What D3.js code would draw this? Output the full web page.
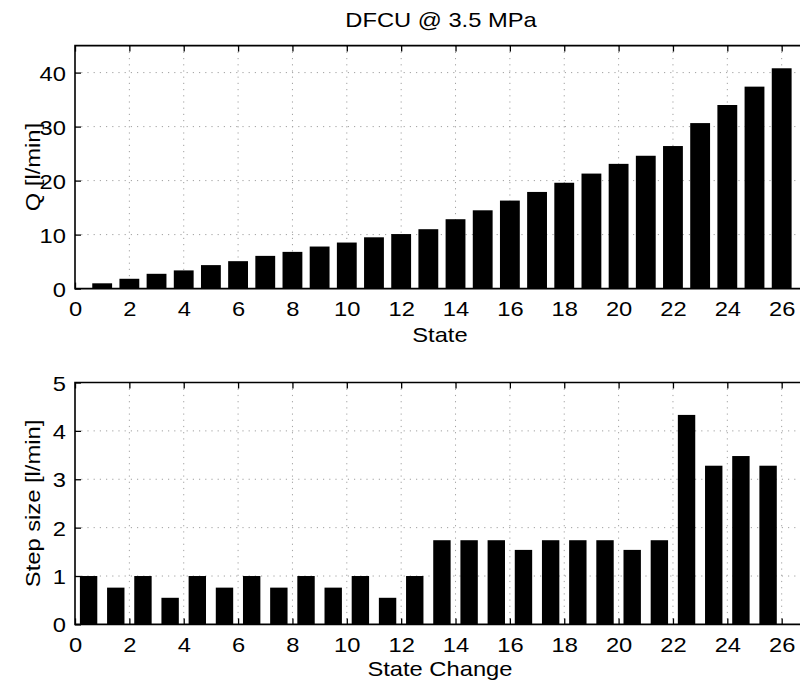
<!DOCTYPE html>
<html>
<head>
<meta charset="utf-8">
<script src="https://cdn.jsdelivr.net/npm/d3@7"></script>
<style>
  html, body { margin: 0; padding: 0; background: #fff; }
  svg { display: block; }
  text { font-family: "Liberation Sans", Arial, Helvetica, sans-serif; fill: #000; }
</style>
</head>
<body>
<svg id="chart" width="800" height="683"></svg>
<script>
// Flow rate per DFCU state (states 1..26)
const states = d3.range(1, 27);
const flowQ = [0.98, 1.82, 2.74, 3.37, 4.35, 5.08, 6.06, 6.8, 7.79, 8.53,
               9.5, 10.1, 11.0, 12.85, 14.5, 16.3, 17.9, 19.6, 21.3, 23.1,
               24.6, 26.4, 30.65, 34.0, 37.4, 40.8];

// Step size between consecutive states (plotted at half-integer positions)
const stateChanges = d3.range(0.5, 26, 1);
const stepSize = [1.0, 0.76, 1.0, 0.55, 1.0, 0.76, 1.0, 0.76, 1.0, 0.76,
                  1.0, 0.55, 1.0, 1.74, 1.74, 1.74, 1.54, 1.74, 1.74, 1.74,
                  1.54, 1.74, 4.33, 3.28, 3.48, 3.28];

const xTicks = d3.range(0, 27, 2);
const yTicksTop = [0, 10, 20, 30, 40];
const yTicksBottom = [0, 1, 2, 3, 4, 5];

const titleText = "DFCU @ 3.5 MPa";

const svg = d3.select("#chart");
const left = 75, right = 75 + 27 * 27.18;
const fontSize = 21;
const stretch = "scale(1.13,1)";   // slightly wide lettering

function panel(opts) {
  const { top, bottom, xData, yData, yMax, yTicks, barWidth, xLabel, yLabel } = opts;
  const x = d3.scaleLinear().domain([0, 27]).range([left, right]);
  const y = d3.scaleLinear().domain([0, yMax]).range([bottom, top]);
  const g = svg.append("g");

  // dotted grid
  g.append("g").selectAll("line").data(xTicks.filter(t => t > 0)).join("line")
    .attr("x1", d => x(d)).attr("x2", d => x(d))
    .attr("y1", top).attr("y2", bottom)
    .attr("stroke", "#a0a0a0").attr("stroke-width", 1)
    .attr("stroke-dasharray", "1.2,5");
  g.append("g").selectAll("line").data(yTicks.filter(t => t > 0 && t < yMax)).join("line")
    .attr("x1", left).attr("x2", right)
    .attr("y1", d => y(d)).attr("y2", d => y(d))
    .attr("stroke", "#a0a0a0").attr("stroke-width", 1)
    .attr("stroke-dasharray", "1.2,5");

  // bars
  const w = x(barWidth) - x(0);
  g.append("g").selectAll("rect").data(xData.map((d, i) => [d, yData[i]])).join("rect")
    .attr("x", d => x(d[0]) - w / 2)
    .attr("y", d => y(d[1]))
    .attr("width", w)
    .attr("height", d => y(0) - y(d[1]))
    .attr("fill", "#000");

  // axes: ticks point inward, box drawn separately
  const tickLen = 6;
  const fmt = d3.format("d");
  const xb = d3.axisBottom(x).tickValues(xTicks).tickSizeInner(-tickLen).tickSizeOuter(0).tickPadding(13).tickFormat(fmt);
  const xt = d3.axisTop(x).tickValues(xTicks).tickSizeInner(-tickLen).tickSizeOuter(0).tickFormat("");
  const yl = d3.axisLeft(y).tickValues(yTicks).tickSizeInner(-tickLen).tickSizeOuter(0).tickPadding(8).tickFormat(fmt);

  const gxb = g.append("g").attr("transform", `translate(0,${bottom})`).call(xb);
  const gxt = g.append("g").attr("transform", `translate(0,${top})`).call(xt);
  const gyl = g.append("g").attr("transform", `translate(${left},0)`).call(yl);
  [gxb, gxt, gyl].forEach(a => {
    a.attr("font-size", null).attr("font-family", null);
    a.select(".domain").remove();
    a.selectAll(".tick line").attr("stroke", "#000").attr("stroke-width", 1.3);
    a.selectAll(".tick text")
      .style("font-size", fontSize + "px")
      .attr("fill", "#000")
      .attr("transform", stretch);
  });
  gxb.selectAll(".tick text").attr("dy", "0.71em");
  gyl.selectAll(".tick text").attr("dy", "0.36em");

  // axes box
  g.append("path")
    .attr("d", `M${right},${top}H${left}V${bottom}H${right}`)
    .attr("fill", "none").attr("stroke", "#000").attr("stroke-width", 1.6);

  // axis labels
  g.append("text")
    .attr("transform", `translate(${(left + right) / 2 - 2},${opts.xLabelY}) ${stretch}`)
    .attr("text-anchor", "middle").style("font-size", fontSize + "px")
    .text(xLabel);
  g.append("text")
    .attr("transform", `translate(${opts.yLabelX},${(top + bottom) / 2}) rotate(-90) ${stretch}`)
    .attr("text-anchor", "middle").style("font-size", fontSize + "px")
    .text(yLabel);
}

svg.append("text")
  .attr("transform", `translate(441,27) ${stretch}`)
  .attr("text-anchor", "middle").style("font-size", fontSize + "px")
  .text(titleText);

panel({ top: 45.6, bottom: 288.6, xData: states, yData: flowQ, yMax: 45,
        yTicks: yTicksTop, barWidth: 0.73, xLabel: "State", yLabel: "Q [l/min]",
        xLabelY: 342, yLabelX: 40 });

panel({ top: 382.5, bottom: 624.4, xData: stateChanges, yData: stepSize, yMax: 5,
        yTicks: yTicksBottom, barWidth: 0.64, xLabel: "State Change", yLabel: "Step size [l/min]",
        xLabelY: 676, yLabelX: 40 });
</script>
</body>
</html>
